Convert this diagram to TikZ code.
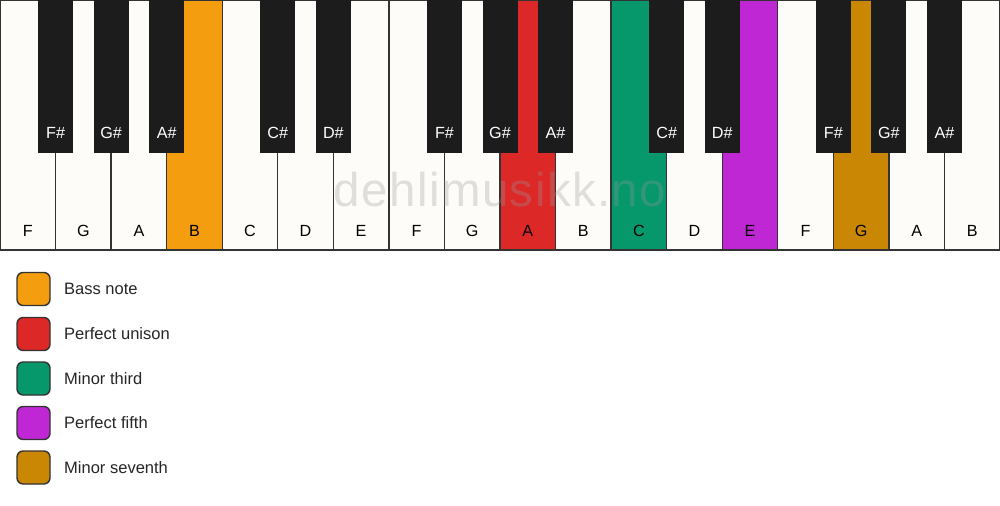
\documentclass[tikz,border=0pt]{standalone}
\usepackage{fontspec}
\setmainfont{Liberation Sans}
\usepackage{tikz}
\usetikzlibrary{positioning}

\definecolor{keywhite}{HTML}{FDFCF8}
\definecolor{keyblack}{HTML}{1C1C1C}
\definecolor{keyline}{HTML}{333333}
\definecolor{bassnote}{HTML}{F39D0F}
\definecolor{unison}{HTML}{DD2828}
\definecolor{minthird}{HTML}{06976A}
\definecolor{perffifth}{HTML}{C027D4}
\definecolor{minseventh}{HTML}{C98704}

\tikzset{
	whitekey/.style = {draw=keyline, line width = 0.8pt},
	blackkey/.style = {fill=keyblack, draw=none},
	whitename/.style = {font=\fontsize{9.2}{10}\selectfont, text=black},
	blackname/.style = {font=\fontsize{9.2}{10}\selectfont, text=white},
	legendbox/.style = {draw=keyline, line width = 0.8pt, rounded corners = 3.5pt,
		minimum width = 33*0.02cm, minimum height = 33*0.02cm, inner sep = 0pt},
	legendtext/.style = {font=\fontsize{9.4}{10}\selectfont, text=black!85, anchor=west}
}

\begin{document}
\begin{tikzpicture}[x=0.02cm, y=-0.02cm]
	\useasboundingbox [fill=white] (0,0) rectangle (1000,506);
	
	% white keys
	\foreach \i/\n/\c in {0/F/keywhite,1/G/keywhite,2/A/keywhite,3/B/bassnote,
		4/C/keywhite,5/D/keywhite,6/E/keywhite,7/F/keywhite,8/G/keywhite,
		9/A/unison,10/B/keywhite,11/C/minthird,12/D/keywhite,13/E/perffifth,
		14/F/keywhite,15/G/minseventh,16/A/keywhite,17/B/keywhite}
	{
		\draw [whitekey, fill=\c] (\i*55.556,0) rectangle (\i*55.556+55.556,250);
		\node [whitename] (w\i) at (\i*55.556+27.778,231) {\n};
	}
	
	% watermark
	\node [font=\fontsize{27}{30}\selectfont\addfontfeature{LetterSpace=3}, text=black!40, opacity=0.3] (mark) at (500,190) {dehlimusikk.no};
	
	% black keys
	\foreach \i/\n in {1/F,2/G,3/A,5/C,6/D,8/F,9/G,10/A,12/C,13/D,15/F,16/G,17/A}
	{
		\fill [blackkey] (\i*55.556-17.5,0) rectangle (\i*55.556+17.5,153);
		\node [blackname] (b\i) at (\i*55.556,133) {\n\#};
	}
	
	% legend
	\node [legendbox, fill=bassnote] (l1) at (33.5,289) {};
	\node [legendtext] at (58,289) {Bass note};
	\node [legendbox, fill=unison] (l2) at (33.5,334) {};
	\node [legendtext] at (58,334) {Perfect unison};
	\node [legendbox, fill=minthird] (l3) at (33.5,378.5) {};
	\node [legendtext] at (58,378.5) {Minor third};
	\node [legendbox, fill=perffifth] (l4) at (33.5,423) {};
	\node [legendtext] at (58,423) {Perfect fifth};
	\node [legendbox, fill=minseventh] (l5) at (33.5,467.5) {};
	\node [legendtext] at (58,467.5) {Minor seventh};
	
\end{tikzpicture}
\end{document}
